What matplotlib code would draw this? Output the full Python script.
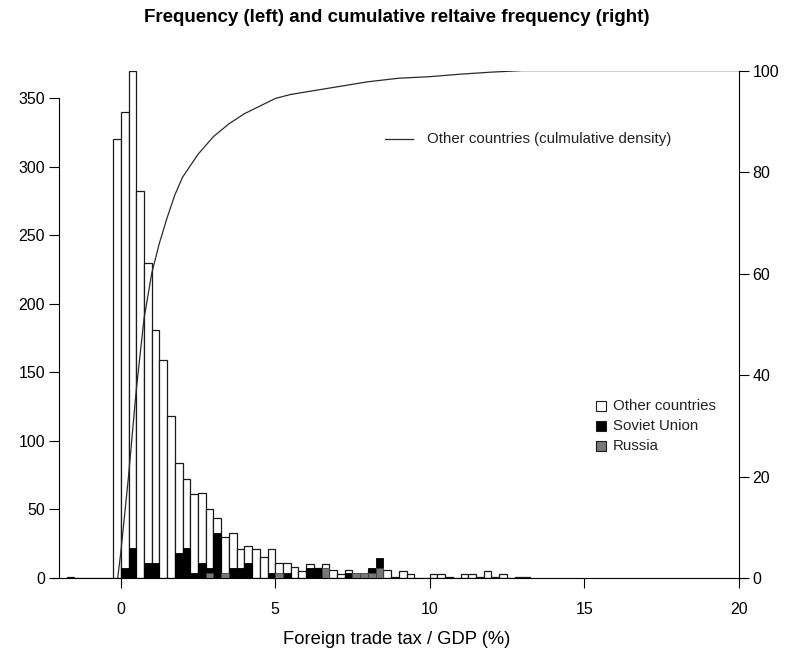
import numpy as np
import matplotlib.pyplot as plt
from matplotlib.patches import Rectangle
from matplotlib.lines import Line2D

plt.rcParams['font.family'] = ['Liberation Sans', 'DejaVu Sans']

# histogram bins are 0.25 wide, right-closed, first left edge at -1.75
bin_width = 0.25
bin_start = -1.75
other_freq = [1, 0, 0, 0, 0, 0, 320, 340, 370, 282, 230, 181, 159, 118, 84, 72,
              61, 62, 50, 44, 30, 33, 21, 23, 21, 15, 21, 11, 11, 8, 5, 10, 7,
              10, 6, 3, 6, 3, 3, 6, 6, 6, 1, 5, 3, 0, 0, 3, 3, 1, 0, 3, 3, 1,
              5, 1, 3, 0, 1, 1]

su_left = [0, 0.25, 0.75, 1.0, 1.75, 2.0, 2.25, 2.5, 2.75, 3.0, 3.5, 3.75, 4.0,
           4.75, 5.25, 6.0, 6.25, 7.25, 8.0, 8.25]
su_freq = [7.3, 22, 11, 11, 18.3, 22, 3.7, 11, 7.3, 33, 7.3, 7.3, 11, 3.7, 3.7,
           7.3, 7.3, 3.7, 7.3, 14.7]

ru_left = [2.75, 3.25, 5.0, 6.5, 7.5, 7.75, 8.0, 8.25]
ru_freq = [3.7, 3.7, 3.7, 7.3, 3.7, 3.7, 3.7, 7.3]

# cumulative relative frequency of other countries (%)
cum_x = [-0.1, 0.0, 0.25, 0.5, 0.75, 1.0, 1.25, 1.5, 1.75, 2.0, 2.5, 3.0, 3.5,
         4.0, 4.5, 5.0, 5.5, 6.0, 7.0, 8.0, 9.0, 10.0, 11.0, 12.0, 13.0, 20.0]
cum_pct = [0, 5, 20, 37, 51, 60, 66, 71, 75.5, 79, 83.5, 87, 89.5, 91.5, 93,
           94.5, 95.3, 95.8, 96.8, 97.8, 98.5, 98.8, 99.3, 99.7, 100, 100]

other_left = bin_start + bin_width * np.arange(len(other_freq))

W, H = 792, 658
fig = plt.figure(figsize=(W / 100, H / 100), dpi=100)

# pixel layout: x=-2 at 59px, x=20 at 738.6px, y=0 at 578px, top at 70.6px
ppu = (738.6 - 59) / 22
x0, x1 = -2.3, 20.25
lp = 59 + (x0 + 2) * ppu
rp = 59 + (x1 + 2) * ppu
ax = fig.add_axes([lp / W, (H - 578) / H, (rp - lp) / W, (578 - 70.6) / H])

ax.bar(other_left, other_freq, width=bin_width, align='edge', color='white',
       edgecolor='#1a1a1a', linewidth=0.9, zorder=2)
ax.bar(su_left, su_freq, width=bin_width, align='edge', color='black',
       edgecolor='black', linewidth=0.6, zorder=3)
ax.bar(ru_left, ru_freq, width=bin_width, align='edge', color='#777777',
       edgecolor='#444444', linewidth=0.6, zorder=4)

ax.set_xlim(x0, x1)
ax.set_ylim(0, 370)
for s in ['top', 'right']:
    ax.spines[s].set_visible(False)
ax.spines['left'].set_position(('data', -2))
ax.spines['left'].set_bounds(0, 350)
for s in ['left', 'bottom']:
    ax.spines[s].set_linewidth(0.8)
ax.set_yticks(np.arange(0, 351, 50))
ax.set_xticks([0, 5, 10, 15, 20])
ax.tick_params(length=7, width=0.8, labelsize=11.5, pad=3)
ax.tick_params(axis='x', pad=10)

ax2 = ax.twinx()
ax2.set_ylim(0, 100)
for s in ['top', 'left', 'bottom']:
    ax2.spines[s].set_visible(False)
ax2.spines['right'].set_position(('data', 20))
ax2.spines['right'].set_bounds(0, 100)
ax2.spines['right'].set_linewidth(0.8)
ax2.set_yticks([0, 20, 40, 60, 80, 100])
ax2.tick_params(length=7, width=0.8, labelsize=11.5, pad=3)
ax2.plot(cum_x, cum_pct, color='#2a2a2a', linewidth=0.9)

fig.text(397 / W, 1 - 18 / H,
         'Frequency (left) and cumulative reltaive frequency (right)',
         ha='center', va='center', fontsize=13.5, fontweight='bold')
fig.text(397 / W, 1 - 640 / H, 'Foreign trade tax / GDP (%)',
         ha='center', va='center', fontsize=13.2)

# legend for the curve
fig.add_artist(Line2D([385 / W, 413 / W], [1 - 139 / H, 1 - 139 / H],
                      color='#2a2a2a', linewidth=0.9))
fig.text(427 / W, 1 - 139 / H, 'Other countries (culmulative density)',
         ha='left', va='center', fontsize=10.8, color='#222222')

# legend for the bars
leg_labels = ['Other countries', 'Soviet Union', 'Russia']
leg_colors = ['white', 'black', '#777777']
for i, (lab, col) in enumerate(zip(leg_labels, leg_colors)):
    yc = 406 + 20 * i
    fig.add_artist(Rectangle((596 / W, 1 - (yc + 5) / H), 10 / W, 10 / H,
                             facecolor=col, edgecolor='#1a1a1a', linewidth=0.8))
    fig.text(613 / W, 1 - yc / H, lab, ha='left', va='center',
             fontsize=10.8, color='#222222')

fig.savefig('out.png', dpi=100)
